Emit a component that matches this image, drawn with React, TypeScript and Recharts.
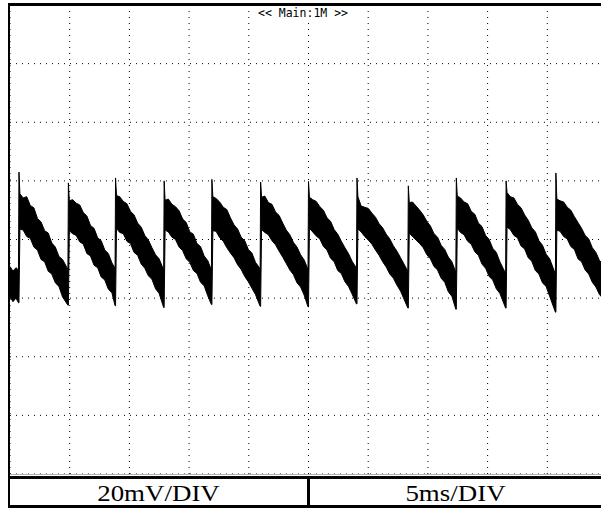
import React from 'react';
import { ComposedChart, Area, XAxis, YAxis, CartesianGrid } from 'recharts';

// scope screen: 10 div x 5 ms, 8 div x 20 mV
const timeTicks = [5, 10, 15, 20, 25, 30, 35, 40, 45];
const voltTicks = [-60, -40, -20, 0, 20, 40, 60];

// rising edges of the sawtooth (ms) and where each spike tops out (mV)
const edges = [0.75, 4.89, 8.84, 12.91, 16.91, 20.99, 25.0, 29.06, 33.36, 37.38, 41.55, 45.72];
const peaks = [23, 19.3, 21, 20, 20.5, 19.6, 19.8, 21, 18.3, 21, 20, 22.7];

// sample instants in a period, ms after the edge (a last sample sits right before the next edge)
const offsets = [0.08, 0.35, 0.65, 0.95, 1.25, 1.55, 1.85, 2.15, 2.45, 2.75, 3.05, 3.35, 3.65];

// top and bottom of the noise band, per period (mV)
const upper = [
  [15.6, 14.2, 14.6, 11.6, 10.8, 7.2, 6.0, 3.0, 2.2, -1.2, -2.6, -5.8, -6.8, -10.2],
  [13.2, 13.6, 12.4, 11.8, 9.2, 8.0, 4.8, 3.8, 0.6, -0.4, -3.6, -4.8, -8.0, -9.8],
  [15.0, 14.6, 13.0, 12.2, 9.6, 8.4, 5.6, 4.2, 1.4, -0.2, -2.8, -5.2, -6.6, -10.4],
  [13.4, 13.8, 12.0, 11.2, 9.8, 7.0, 5.8, 2.6, 1.8, -1.4, -2.4, -5.6, -7.2, -10.4],
  [14.6, 14.0, 12.8, 11.0, 10.2, 7.4, 5.0, 3.6, 0.8, -0.4, -3.4, -4.6, -7.8, -10.0],
  [14.4, 14.8, 12.6, 12.0, 9.4, 8.2, 5.6, 3.2, 1.6, -1.0, -2.6, -5.2, -7.0, -10.2],
  [14.4, 13.6, 13.0, 11.2, 10.0, 7.4, 6.2, 3.4, 1.8, -0.6, -2.8, -4.8, -7.4, -9.8],
  [14.6, 11.4, 11.0, 10.6, 9.0, 7.6, 5.4, 4.0, 1.8, 0.2, -2.2, -4.0, -6.2, -10.8],
  [12.6, 12.8, 11.4, 10.0, 8.4, 6.2, 4.6, 2.0, 0.8, -2.0, -3.4, -6.0, -7.6, -11.2],
  [14.8, 14.2, 12.8, 12.2, 9.6, 8.6, 5.6, 4.4, 1.4, 0.0, -3.0, -4.4, -7.6, -11.6],
  [16.0, 14.6, 14.2, 12.0, 10.8, 8.4, 6.6, 4.0, 2.6, -0.4, -2.0, -5.0, -6.6, -11.8],
  [13.8, 13.2, 12.8, 11.0, 10.0, 7.8, 5.8, 3.8, 1.4, 0.2, -2.8, -4.4, -7.2, -9.6],
];
const lower = [
  [3.6, 3.2, 1.0, 0.4, -2.6, -3.6, -6.8, -7.6, -10.8, -11.8, -14.8, -16.0, -19.6, -22.4],
  [3.0, 2.0, 1.4, -0.8, -1.6, -4.8, -5.6, -8.8, -9.6, -12.8, -13.8, -17.0, -18.2, -22.6],
  [3.8, 2.4, 2.0, -0.6, -1.4, -4.4, -5.4, -8.4, -9.8, -12.4, -13.6, -16.8, -18.4, -23.2],
  [3.2, 2.6, 0.8, 0.0, -2.6, -3.8, -6.6, -7.8, -10.6, -11.6, -14.6, -15.8, -19.2, -22.2],
  [3.0, 2.8, 0.6, -0.6, -2.8, -4.6, -6.2, -8.6, -10.2, -12.6, -14.4, -16.6, -18.8, -22.8],
  [3.4, 2.4, 1.6, -0.4, -1.8, -4.0, -6.0, -8.2, -10.4, -12.0, -14.8, -16.2, -19.0, -23.0],
  [3.8, 2.6, 1.2, 0.2, -2.4, -3.6, -6.4, -7.6, -10.6, -11.6, -14.4, -16.0, -18.6, -22.0],
  [3.6, 2.6, 1.0, -0.2, -1.6, -3.6, -5.4, -7.6, -9.4, -11.8, -13.2, -15.6, -17.6, -23.4],
  [2.2, 1.0, -0.2, -1.4, -2.8, -5.2, -6.6, -9.2, -10.4, -13.2, -14.6, -17.8, -19.4, -23.8],
  [3.8, 2.4, 1.6, -0.6, -1.6, -4.2, -5.4, -8.4, -9.8, -12.6, -13.8, -16.8, -18.4, -23.4],
  [4.2, 3.4, 1.4, 0.6, -2.2, -3.2, -6.2, -7.4, -10.6, -11.8, -14.8, -16.0, -19.4, -24.8],
  [3.2, 2.8, 1.0, 0.2, -2.4, -3.4, -6.6, -7.6, -10.4, -11.8, -14.6, -16.2, -18.8, -21.6],
];

// trace before the first edge
const leadTimes = [0, 0.25, 0.5, 0.71];
const leadUpper = [-9.2, -10.8, -9.6, -10.4];
const leadLower = [-19.6, -21.2, -20.0, -21.6];

const rows: { t: number; band: [number, number] }[] = [];
leadTimes.forEach((t, i) => rows.push({ t, band: [leadLower[i], leadUpper[i]] }));
edges.forEach((e, p) => {
  const prevLow = rows[rows.length - 1].band[0];
  rows.push({ t: e, band: [prevLow, peaks[p]] });
  offsets.forEach((o, k) => rows.push({ t: e + o, band: [lower[p][k], upper[p][k]] }));
  const last = offsets.length;
  const end = p < edges.length - 1 ? edges[p + 1] - 0.04 : 50;
  rows.push({ t: end, band: [lower[p][last], upper[p][last]] });
});

const box = (left: number, top: number, width: number, height: number, background = '#000') => (
  <div style={{ position: 'absolute', left, top, width, height, background }} />
);

const labelStyle: React.CSSProperties = {
  position: 'absolute',
  top: 481,
  height: 26,
  lineHeight: '26px',
  textAlign: 'center',
  fontFamily: '"Liberation Serif", serif',
  fontSize: 23,
  color: '#000',
  transform: 'scaleX(1.17)',
};

export default function App() {
  return (
    <div style={{ position: 'absolute', left: 0, top: 0, width: 601, height: 508, overflow: 'hidden', background: '#fff' }}>
      <div style={{ position: 'absolute', left: 10, top: 5 }}>
        <ComposedChart width={597} height={469} data={rows} margin={{ top: 0, right: 0, bottom: 0, left: 0 }}>
          <CartesianGrid stroke="#000" strokeDasharray="1 5" />
          <XAxis type="number" dataKey="t" domain={[0, 50]} ticks={timeTicks} hide />
          <YAxis type="number" domain={[-80, 80]} ticks={voltTicks} hide />
          <Area
            type="linear"
            dataKey="band"
            stroke="#000"
            strokeWidth={1}
            fill="#000"
            fillOpacity={1}
            dot={false}
            activeDot={false}
            isAnimationActive={false}
          />
        </ComposedChart>
      </div>

      <div
        style={{
          position: 'absolute',
          left: 257,
          top: 7,
          padding: '0 1px',
          background: '#fff',
          fontFamily: '"DejaVu Sans Mono", monospace',
          fontSize: 11.5,
          lineHeight: '13px',
          color: '#000',
          whiteSpace: 'pre',
        }}
      >
        {'<< Main:1M >>'}
      </div>

      {box(8, 3, 600, 3)}
      {box(8, 3, 2, 505)}
      {box(10, 474, 597, 1, '#b0b0b0')}
      {box(8, 476, 600, 3)}
      {box(307, 476, 3, 32)}
      {box(8, 505, 600, 3)}

      <div style={{ ...labelStyle, left: 10, width: 297 }}>20mV/DIV</div>
      <div style={{ ...labelStyle, left: 310, width: 291 }}>5ms/DIV</div>
    </div>
  );
}
